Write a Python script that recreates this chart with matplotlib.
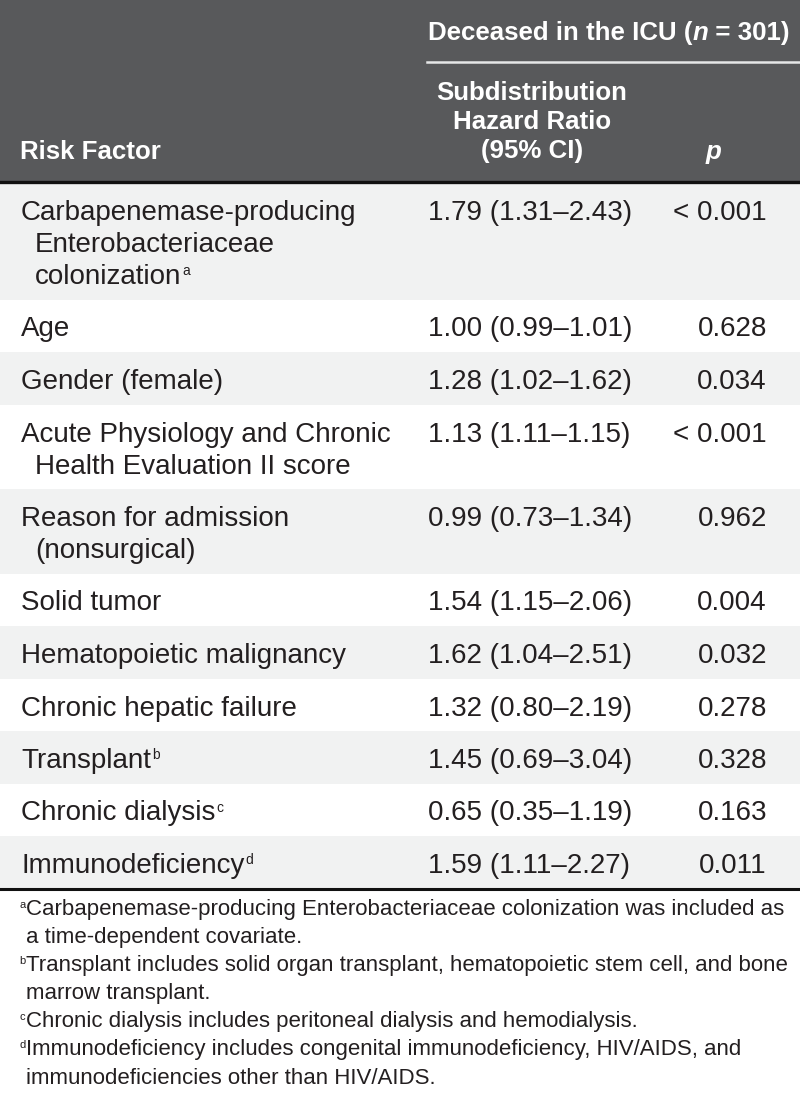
import matplotlib
matplotlib.use("Agg")
import matplotlib.pyplot as plt
from matplotlib.patches import Rectangle

plt.rcParams['font.family'] = ['Liberation Sans', 'DejaVu Sans']

# table content
risk_factors = [
    ["Carbapenemase-producing", "Enterobacteriaceae", "colonization"],
    ["Age"],
    ["Gender (female)"],
    ["Acute Physiology and Chronic", "Health Evaluation II score"],
    ["Reason for admission", "(nonsurgical)"],
    ["Solid tumor"],
    ["Hematopoietic malignancy"],
    ["Chronic hepatic failure"],
    ["Transplant"],
    ["Chronic dialysis"],
    ["Immunodeficiency"],
]
footmarks = ["a", "", "", "", "", "", "", "", "b", "c", "d"]
hazard_ratios = ["1.79 (1.31\u20132.43)", "1.00 (0.99\u20131.01)", "1.28 (1.02\u20131.62)",
                 "1.13 (1.11\u20131.15)", "0.99 (0.73\u20131.34)", "1.54 (1.15\u20132.06)",
                 "1.62 (1.04\u20132.51)", "1.32 (0.80\u20132.19)", "1.45 (0.69\u20133.04)",
                 "0.65 (0.35\u20131.19)", "1.59 (1.11\u20132.27)"]
p_values = ["< 0.001", "0.628", "0.034", "< 0.001", "0.962", "0.004",
            "0.032", "0.278", "0.328", "0.163", "0.011"]

footnotes = [
    ("a", ["Carbapenemase-producing Enterobacteriaceae colonization was included as",
           "a time-dependent covariate."]),
    ("b", ["Transplant includes solid organ transplant, hematopoietic stem cell, and bone",
           "marrow transplant."]),
    ("c", ["Chronic dialysis includes peritoneal dialysis and hemodialysis."]),
    ("d", ["Immunodeficiency includes congenital immunodeficiency, HIV/AIDS, and",
           "immunodeficiencies other than HIV/AIDS."]),
]

header_bg = "#58595b"
band_gray = "#f1f2f2"
text_col = "#231f20"
body_fs = 20.0
foot_fs = 16.0
head_fs = 18.6

W, H = 800, 1095
fig = plt.figure(figsize=(W / 100, H / 100), dpi=100)
ax = fig.add_axes([0, 0, 1, 1])
ax.set_xlim(0, W)
ax.set_ylim(H, 0)
ax.axis("off")
fig.canvas.draw()
renderer = fig.canvas.get_renderer()


def text_width(t):
    bb = t.get_window_extent(renderer=renderer)
    return bb.width  # pixels == data units here


def runs(x, y, parts, **kw):
    # draw pieces of text one after another on a line
    for s, extra in parts:
        opts = dict(kw)
        opts.update(extra)
        t = ax.text(x, y, s, ha="left", va="baseline", **opts)
        x += text_width(t)
    return x


# header block
ax.add_patch(Rectangle((0, 0), W, 181, color=header_bg, lw=0))
hdr = dict(color="white", fontsize=head_fs, fontweight="bold")
runs(428, 40, [("Deceased in the ICU (", {}), ("n", {"style": "italic"}),
               (" = 301)", {})], **hdr)
ax.plot([427, W], [62, 62], color="#e6e7e8", lw=1.8)
for yy, s in zip([100, 129, 158], ["Subdistribution", "Hazard Ratio", "(95% CI)"]):
    ax.text(532, yy, s, ha="center", va="baseline", **hdr)
ax.text(20, 159, "Risk Factor", ha="left", va="baseline", **hdr)
ax.text(713, 159, "p", ha="center", va="baseline", color="white", fontsize=head_fs,
        fontweight="bold", style="italic")
ax.plot([0, W], [182, 182], color="#111111", lw=2.4)

# body rows
top = 183
line_h = 32
for i, lines in enumerate(risk_factors):
    h = 20.5 + line_h * len(lines)
    if i % 2 == 0:
        ax.add_patch(Rectangle((0, top), W, h, color=band_gray, lw=0))
    base = top + 37
    for j, s in enumerate(lines):
        xx = 21 if j == 0 else 35
        t = ax.text(xx, base + j * line_h, s, ha="left", va="baseline",
                    color=text_col, fontsize=body_fs)
        if j == len(lines) - 1 and footmarks[i]:
            ax.text(xx + text_width(t) + 1, base + j * line_h - 9, footmarks[i],
                    ha="left", va="baseline", color=text_col, fontsize=body_fs * 0.5)
    ax.text(428, base, hazard_ratios[i], ha="left", va="baseline",
            color=text_col, fontsize=body_fs)
    ax.text(767, base, p_values[i], ha="right", va="baseline",
            color=text_col, fontsize=body_fs)
    top += h

ax.plot([0, W], [top, top], color="#111111", lw=2.2)

# footnotes
fy = top + 27
for mark, lines in footnotes:
    ax.text(19, fy - 7, mark, ha="left", va="baseline", color=text_col,
            fontsize=foot_fs * 0.5)
    for j, s in enumerate(lines):
        ax.text(26, fy + j * 28, s, ha="left", va="baseline", color=text_col,
                fontsize=foot_fs)
    fy += 28 * len(lines)

fig.savefig("out.png", dpi=100, facecolor="white")
